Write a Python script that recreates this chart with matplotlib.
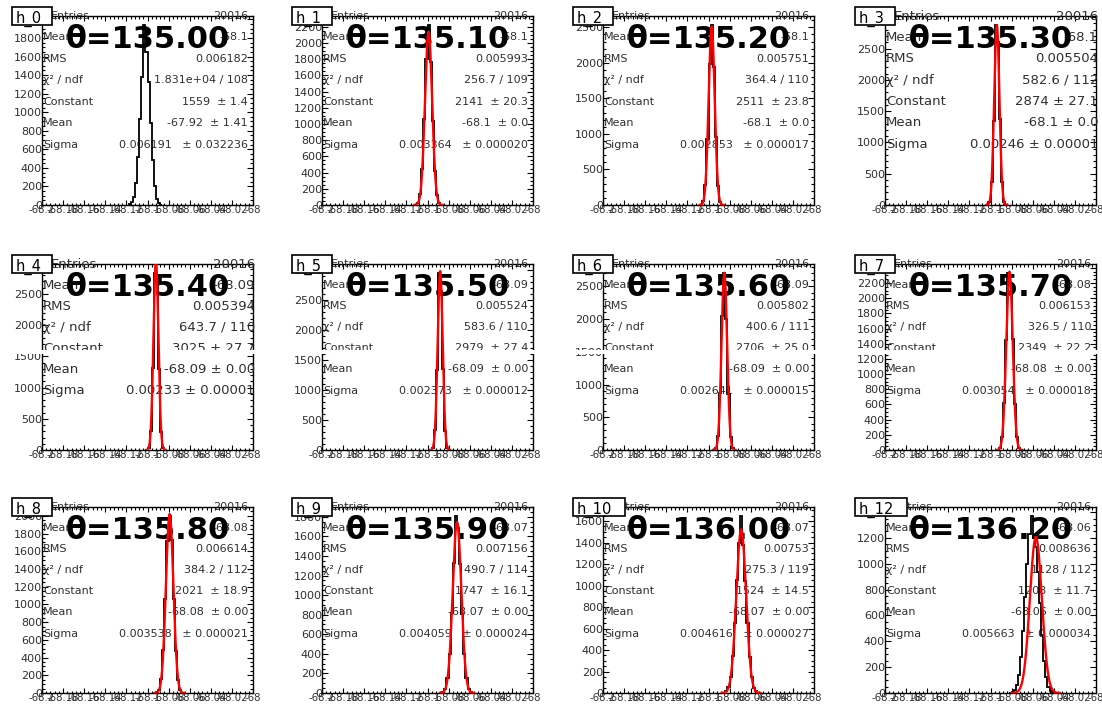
import numpy as np
import matplotlib
matplotlib.use("Agg")
import matplotlib.pyplot as plt
from matplotlib.ticker import FixedLocator, MultipleLocator, AutoMinorLocator, FuncFormatter
from matplotlib.patches import Rectangle

# ---------------- data ----------------
names = ["h_0", "h_1", "h_2", "h_3", "h_4", "h_5", "h_6", "h_7", "h_8", "h_9", "h_10", "h_12"]
angles = ["135.00", "135.10", "135.20", "135.30", "135.40", "135.50",
          "135.60", "135.70", "135.80", "135.90", "136.00", "136.20"]

x_lo, x_hi = -68.2, -68.0
bin_width = 0.002
x_ticks = [-68.2, -68.18, -68.16, -68.14, -68.12, -68.1, -68.08, -68.06, -68.04, -68.02, -68.0]

hist_start = [-68.118, -68.112, -68.108, -68.104, -68.102, -68.098,
              -68.096, -68.094, -68.092, -68.088, -68.086, -68.082]
counts_h0 = [10, 30, 90, 240, 520, 930, 1380, 1940, 1650, 1330, 880, 480, 200, 70, 20, 5]
counts_h1 = [5, 25, 130, 440, 1060, 1800, 2222, 1760, 1040, 420, 120, 28, 6]
counts_h2 = [5, 50, 280, 930, 1980, 2533, 1940, 950, 270, 48, 6]
counts_h3 = [3, 50, 370, 1350, 2876, 2600, 1380, 360, 48, 4]
counts_h4 = [2, 35, 310, 1320, 2838, 2700, 1300, 290, 30, 3]
counts_h5 = [3, 40, 330, 1340, 2950, 2650, 1350, 320, 38, 2]
counts_h6 = [2, 28, 210, 870, 2050, 2705, 2000, 850, 200, 25, 2]
counts_h7 = [4, 30, 170, 620, 1450, 2333, 2200, 1460, 600, 165, 28, 3]
counts_h8 = [6, 37, 156, 480, 1065, 1720, 2000, 1730, 1060, 470, 150, 35, 5]
counts_h9 = [2, 10, 45, 150, 400, 820, 1330, 1810, 1690, 1320, 810, 395, 150, 44, 10, 2]
counts_h10 = [4, 15, 52, 146, 340, 655, 1050, 1400, 1648, 1380, 1040, 650, 335, 145, 50, 14, 3]
counts_h12 = [2, 8, 22, 60, 140, 280, 480, 740, 1000, 1230, 1371, 1200, 1130, 940, 700,
              450, 250, 120, 50, 18, 6, 2]
all_counts = [counts_h0, counts_h1, counts_h2, counts_h3, counts_h4, counts_h5,
              counts_h6, counts_h7, counts_h8, counts_h9, counts_h10, counts_h12]

# gaussian fit parameters
fit_const = [1559, 2141, 2511, 2874, 3025, 2979, 2706, 2349, 2021, 1747, 1524, 1208]
fit_mean = [-67.92, -68.099, -68.097, -68.094, -68.092, -68.088,
            -68.085, -68.082, -68.079, -68.072, -68.069, -68.057]
fit_sigma = [0.006191, 0.003364, 0.002853, 0.00246, 0.00233, 0.002373,
             0.002641, 0.003054, 0.003538, 0.004059, 0.004616, 0.005663]

y_step = [200, 200, 500, 500, 500, 500, 500, 200, 200, 200, 200, 200]

# stats box texts
entries_txt = "20016"
hmean_txt = ["-68.1", "-68.1", "-68.1", "-68.1", "-68.09", "-68.09",
             "-68.09", "-68.08", "-68.08", "-68.07", "-68.07", "-68.06"]
rms_txt = ["0.006182", "0.005993", "0.005751", "0.005504", "0.005394", "0.005524",
           "0.005802", "0.006153", "0.006614", "0.007156", "0.00753", "0.008636"]
chi2_txt = ["1.831e+04 / 108", "256.7 / 109", "364.4 / 110", "582.6 / 112",
            "643.7 / 110", "583.6 / 110", "400.6 / 111", "326.5 / 110",
            "384.2 / 112", "490.7 / 114", "275.3 / 119", "1128 / 112"]
const_txt = ["1559  ± 1.4", "2141  ± 20.3", "2511  ± 23.8", "2874 ± 27.1",
             "3025 ± 27.7", "2979  ± 27.4", "2706  ± 25.0", "2349  ± 22.2",
             "2021  ± 18.9", "1747  ± 16.1", "1524  ± 14.5", "1208  ± 11.7"]
mean_txt = ["-67.92  ± 1.41", "-68.1  ± 0.0", "-68.1  ± 0.0", "-68.1 ± 0.0",
            "-68.09 ± 0.00", "-68.09  ± 0.00", "-68.09  ± 0.00", "-68.08  ± 0.00",
            "-68.08  ± 0.00", "-68.07  ± 0.00", "-68.07  ± 0.00", "-68.06  ± 0.00"]
sigma_txt = ["0.006191   ± 0.032236", "0.003364   ± 0.000020", "0.002853   ± 0.000017",
             "0.00246 ± 0.00001", "0.00233 ± 0.00001", "0.002373   ± 0.000012",
             "0.002641   ± 0.000015", "0.003054   ± 0.000018", "0.003538   ± 0.000021",
             "0.004059   ± 0.000024", "0.004616   ± 0.000027", "0.005663   ± 0.000034"]
big_stats = [False, False, False, True, True, False, False, False, False, False, False, False]

# ---------------- layout (pixels) ----------------
W, H = 1102, 709
col_left = [42, 322, 603, 885]
frame_w = 211
row_top = [16, 264, 507]
row_bot = [205, 450, 693]

fig = plt.figure(figsize=(W / 100, H / 100), dpi=100)
fig.patch.set_facecolor("white")

txt_col = "#303030"
line_fracs = [0.0, 0.113, 0.227, 0.339, 0.454, 0.566, 0.681]

for i, name in enumerate(names):
    r, c = divmod(i, 4)
    left, top, bot = col_left[c], row_top[r], row_bot[r]
    fh = bot - top
    ax = fig.add_axes([left / W, 1 - bot / H, frame_w / W, fh / H])
    ax.set_facecolor("white")

    counts = np.array(all_counts[i], dtype=float)
    edges = hist_start[i] + bin_width * np.arange(len(counts) + 1)
    ax.stairs(counts, edges, baseline=0, color="black", lw=1.3, zorder=4)

    mu, sg, cst = fit_mean[i], fit_sigma[i], fit_const[i]
    xa, xb = max(mu - 4 * sg, x_lo), min(mu + 4 * sg, x_hi)
    if xa < xb:
        xs = np.linspace(xa, xb, 300)
        ax.plot(xs, cst * np.exp(-0.5 * ((xs - mu) / sg) ** 2), color="red", lw=1.7, zorder=5)

    ax.set_xlim(x_lo, x_hi)
    ax.set_ylim(0, 1.05 * counts.max())

    ax.xaxis.set_major_locator(FixedLocator(x_ticks))
    ax.xaxis.set_minor_locator(AutoMinorLocator(5))
    ax.xaxis.set_major_formatter(FuncFormatter(lambda v, p: ("%.2f" % v).rstrip("0").rstrip(".")))
    ax.yaxis.set_major_locator(MultipleLocator(y_step[i]))
    ax.yaxis.set_minor_locator(AutoMinorLocator(4 if y_step[i] == 200 else 5))
    ax.yaxis.set_major_formatter(FuncFormatter(lambda v, p: "%d" % round(v)))

    ax.tick_params(which="both", direction="in", top=True, right=True, colors="black", width=0.8)
    ax.tick_params(axis="x", which="major", length=3.6, labelsize=7.3, pad=0.3, labelcolor=txt_col)
    ax.tick_params(axis="x", which="minor", length=1.8)
    ax.tick_params(axis="y", which="major", length=4.3, labelsize=8, pad=0, labelcolor=txt_col)
    ax.tick_params(axis="y", which="minor", length=2.2)
    for lab in ax.get_xticklabels() + ax.get_yticklabels():
        lab.set_family("DejaVu Sans")
    for sp in ax.spines.values():
        sp.set_linewidth(1.0)
        sp.set_zorder(2.5)

    # stats box text
    fs = 9.5 if big_stats[i] else 8
    xr = 1 + (2 / frame_w if big_stats[i] else -5 / frame_w)
    xl = 1 / frame_w
    lefts = ["Entries", "Mean", "RMS", "χ² / ndf", "Constant", "Mean", "Sigma"]
    rights = [entries_txt, hmean_txt[i], rms_txt[i], chi2_txt[i], const_txt[i], mean_txt[i], sigma_txt[i]]
    for k, (lt, rt) in enumerate(zip(lefts, rights)):
        yy = 1 - line_fracs[k]
        lx = xl + (8 / frame_w if k == 0 else 0)
        ax.text(lx, yy, lt, transform=ax.transAxes, ha="left", va="center",
                fontsize=fs, color=txt_col, family="DejaVu Sans", zorder=2.8, clip_on=False)
        ax.text(xr, yy, rt, transform=ax.transAxes, ha="right", va="center",
                fontsize=fs, color=txt_col, family="DejaVu Sans", zorder=2.8, clip_on=False)

    # big angle title
    ax.text(0.5, 1 - 32 / fh, "θ=" + angles[i], transform=ax.transAxes, ha="center",
            va="baseline", fontsize=22, fontweight="bold", color="black",
            family="DejaVu Sans", zorder=3, clip_on=False)

    # white rendering band through the middle row
    if r == 1:
        y0 = (bot - 354) / fh
        y1 = (bot - 349.5) / fh
        ax.add_patch(Rectangle((-0.2, y0), 1.23, y1 - y0, transform=ax.transAxes,
                               facecolor="white", edgecolor="none", zorder=3.5, clip_on=False))

    # histogram name box
    box_w = 40 + 12 * (len(name) - 3)
    box_top = top - 9
    box_h = 18
    fig.patches.append(Rectangle(((left - 30) / W, 1 - (box_top + box_h) / H), box_w / W, box_h / H,
                                 transform=fig.transFigure, facecolor="white", edgecolor="black",
                                 linewidth=1.2, zorder=9))
    fig.text((left - 26) / W, 1 - (top + 0.5) / H, name, ha="left", va="center_baseline",
             fontsize=10.5, color="black", family="DejaVu Sans", zorder=10)

fig.savefig("out.png", dpi=100, facecolor="white")
